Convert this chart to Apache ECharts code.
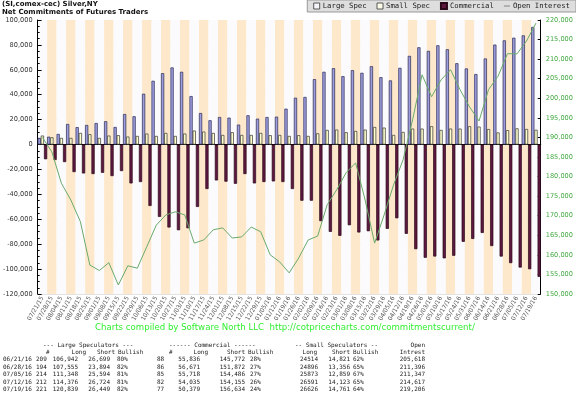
<!DOCTYPE html>
<html lang="en">
<head>
  <meta charset="UTF-8">
  <title>Silver COT</title>
  <style>
    html, body { margin: 0; padding: 0; background: #fff; }
    #main { width: 576px; height: 397px; }
  </style>
</head>
<body>
  <div id="main"></div>
  <script src="https://cdn.jsdelivr.net/npm/echarts@6/dist/echarts.min.js"></script>
  <script>
    const dates = ['07/21/15', '07/28/15', '08/04/15', '08/11/15', '08/18/15', '08/25/15', '09/01/15', '09/08/15',
      '09/15/15', '09/22/15', '09/29/15', '10/06/15', '10/13/15', '10/20/15', '10/27/15', '11/03/15', '11/10/15',
      '11/17/15', '11/24/15', '12/01/15', '12/08/15', '12/15/15', '12/22/15', '12/29/15', '01/05/16', '01/12/16',
      '01/19/16', '01/26/16', '02/02/16', '02/09/16', '02/16/16', '02/23/16', '03/01/16', '03/08/16', '03/15/16',
      '03/22/16', '03/29/16', '04/05/16', '04/12/16', '04/19/16', '04/26/16', '05/03/16', '05/10/16', '05/17/16',
      '05/24/16', '05/31/16', '06/07/16', '06/14/16', '06/21/16', '06/28/16', '07/05/16', '07/12/16', '07/19/16'];

    const largeSpec = [5300, 6300, 8500, 16500, 14000, 15700, 17300, 18700, 14100, 24500, 22700, 40800, 51200,
      57300, 61900, 58400, 38900, 25300, 19500, 22100, 21600, 16000, 23500, 20800, 22100, 22400, 28800, 37600,
      38200, 52500, 58400, 61300, 54900, 59700, 57600, 62900, 54100, 51500, 61600, 71200, 78100, 75200, 79700,
      76500, 65300, 61100, 56600, 69100, 80243, 83661, 85754, 87652, 94390];

    const smallSpec = [7200, 5800, 5300, 5300, 9300, 8300, 5300, 7200, 7500, 6400, 6900, 8800, 6900, 9300, 6900,
      8800, 11200, 10400, 9300, 7700, 9900, 7700, 7700, 9300, 7500, 7700, 6900, 7500, 6900, 9000, 11700, 12000,
      9900, 10900, 12000, 14100, 13600, 7700, 10100, 12800, 12800, 14700, 11700, 12800, 12800, 14700, 14400,
      12400, 9693, 11540, 13014, 12468, 11865];

    const commercial = [-11800, -12400, -14100, -22100, -23200, -23700, -22700, -25300, -21300, -31200, -30100,
      -49300, -58100, -66600, -68800, -67200, -50100, -35700, -28800, -29800, -31500, -23700, -31200, -30100,
      -29600, -30100, -35700, -45100, -45100, -61500, -70100, -73300, -64800, -70600, -69600, -77000, -67700,
      -59200, -71700, -84000, -90900, -89900, -91400, -89300, -78100, -75800, -71000, -81500, -89936, -95201,
      -98768, -100120, -106255];

    const openInterest = [190000, 186300, 178300, 174000, 168500, 157400, 156000, 158000, 152300, 157200, 156600,
      162100, 167600, 170200, 171000, 170200, 163000, 163800, 166400, 166900, 164300, 164600, 167100, 165900,
      160000, 158200, 155400, 159200, 163800, 164800, 172800, 176600, 181000, 183500, 174000, 163000, 170200,
      177900, 184300, 194500, 206000, 200400, 204700, 207300, 202200, 197800, 194200, 202200, 205618, 211396,
      211347, 214617, 219206];

    // table under the chart
    const tDates = ['06/21/16', '06/28/16', '07/05/16', '07/12/16', '07/19/16'];
    const lsNum = ['209', '194', '214', '212', '221'];
    const lsLong = ['106,942', '107,555', '111,348', '114,376', '120,839'];
    const lsShort = ['26,699', '23,894', '25,594', '26,724', '26,449'];
    const lsBull = ['80%', '82%', '81%', '81%', '82%'];
    const cmNum = ['88', '86', '85', '82', '77'];
    const cmLong = ['55,836', '56,671', '55,718', '54,035', '50,379'];
    const cmShort = ['145,772', '151,872', '154,486', '154,155', '156,634'];
    const cmBull = ['28%', '27%', '27%', '26%', '24%'];
    const ssLong = ['24514', '24896', '25873', '26591', '26626'];
    const ssShort = ['14,821', '13,356', '12,859', '14,123', '14,761'];
    const ssBull = ['62%', '65%', '67%', '65%', '64%'];
    const oiTable = ['205,618', '211,396', '211,347', '214,617', '219,206'];

    const mono = 'DejaVu Sans Mono';
    const tableFont = { fontFamily: mono, fontSize: 6, fill: '#1a1a1a' };

    function txt(text, x, y, align) {
      return {
        type: 'text',
        x: x,
        y: y,
        style: { ...tableFont, text: text, textAlign: align || 'left', textVerticalAlign: 'middle' }
      };
    }

    const graphic = [
      {
        type: 'text', x: 95, y: 328,
        style: {
          text: 'Charts compiled by Software North LLC  http://cotpricecharts.com/commitmentscurrent/',
          fontFamily: 'DejaVu Sans', fontSize: 8.6, fill: '#33ee33', textVerticalAlign: 'middle'
        }
      },
      txt('--- Large Speculators ---', 43, 345),
      txt('------ Commercial ------', 169, 345),
      txt('-- Small Speculators --', 295, 345),
      txt('Open', 425, 345, 'right'),
      txt('#', 46, 352),
      txt('Long', 86, 352, 'right'),
      txt('Short', 115, 352, 'right'),
      txt('Bullish', 118, 352),
      txt('#', 169, 352),
      txt('Long', 208, 352, 'right'),
      txt('Short', 245, 352, 'right'),
      txt('Bullish', 248, 352),
      txt('Long', 317, 352, 'right'),
      txt('Short', 350, 352, 'right'),
      txt('Bullish', 353, 352),
      txt('Intrest', 425, 352, 'right')
    ];

    tDates.forEach((d, i) => {
      const y = 359.5 + i * 7.5;
      graphic.push(
        txt(d, 3, y),
        txt(lsNum[i], 36, y),
        txt(lsLong[i], 78, y, 'right'),
        txt(lsShort[i], 110, y, 'right'),
        txt(lsBull[i], 117, y),
        txt(cmNum[i], 157, y),
        txt(cmLong[i], 200, y, 'right'),
        txt(cmShort[i], 245, y, 'right'),
        txt(cmBull[i], 250, y),
        txt(ssLong[i], 318, y, 'right'),
        txt(ssShort[i], 350, y, 'right'),
        txt(ssBull[i], 353, y),
        txt(oiTable[i], 425, y, 'right')
      );
    });

    const chart = echarts.init(document.getElementById('main'));

    chart.setOption({
      animation: false,
      backgroundColor: '#fff',
      title: {
        left: 2,
        top: 1,
        padding: 0,
        itemGap: 1,
        text: '(SI,comex-cec) Silver,NY',
        subtext: 'Net Commitments of Futures Traders',
        textStyle: { fontFamily: 'DejaVu Sans', fontSize: 7, fontWeight: 'bold', color: '#111' },
        subtextStyle: { fontFamily: 'DejaVu Sans', fontSize: 7, fontWeight: 'bold', color: '#111' }
      },
      legend: {
        top: 0,
        right: 0,
        itemWidth: 6,
        itemHeight: 6,
        itemGap: 10,
        padding: [2, 6, 2, 6],
        backgroundColor: '#dedede',
        borderColor: '#999',
        borderWidth: 1,
        textStyle: { fontFamily: mono, fontSize: 7.3, color: '#222', padding: [0, 0, 0, -2] },
        data: [
          { name: 'Large Spec', icon: 'rect', itemStyle: { color: '#f4f4fb', borderColor: '#333', borderWidth: 0.8 } },
          { name: 'Small Spec', icon: 'rect', itemStyle: { color: '#fbfbe8', borderColor: '#333', borderWidth: 0.8 } },
          { name: 'Commercial', icon: 'rect' },
          { name: 'Open Interest', icon: 'path://M0,4.5 L10,4.5 L10,5.5 L0,5.5 Z', itemStyle: { color: '#444' } }
        ]
      },
      grid: { left: 33, right: 33, top: 20, bottom: 103 },
      xAxis: {
        type: 'category',
        data: dates,
        boundaryGap: true,
        axisLine: { lineStyle: { color: '#000', width: 1 } },
        axisTick: { inside: true, length: 3, interval: 0, lineStyle: { color: '#000' } },
        axisLabel: { rotate: 60, interval: 0, fontSize: 6, margin: 3, color: '#555', fontFamily: 'DejaVu Sans' },
        splitArea: { show: true, interval: 0, areaStyle: { color: ['#fbfbfd', '#fde8cc'] } }
      },
      yAxis: [
        {
          type: 'value',
          position: 'left',
          min: -120000,
          max: 100000,
          interval: 20000,
          axisLine: { show: true, lineStyle: { color: '#000' } },
          axisTick: { show: true, inside: true, length: 4, lineStyle: { color: '#000' } },
          minorTick: { show: true, splitNumber: 4, length: 2, lineStyle: { color: '#000' } },
          splitLine: { show: true, lineStyle: { color: '#e3e3e3', width: 1 } },
          axisLabel: { fontSize: 6.6, color: '#333', margin: 5, fontFamily: 'DejaVu Sans' }
        },
        {
          type: 'value',
          position: 'right',
          min: 150000,
          max: 220000,
          interval: 5000,
          axisLine: { show: true, lineStyle: { color: '#000' } },
          axisTick: { show: true, inside: true, length: 3, lineStyle: { color: '#000' } },
          splitLine: { show: false },
          axisLabel: { fontSize: 6.6, color: '#44aa44', margin: 5, fontFamily: 'DejaVu Sans' }
        }
      ],
      series: [
        {
          name: 'Large Spec',
          type: 'bar',
          data: largeSpec,
          barWidth: 3.2,
          barGap: '0%',
          itemStyle: { color: '#9d9dde', borderColor: '#2a2a55', borderWidth: 0.7 }
        },
        {
          name: 'Small Spec',
          type: 'bar',
          data: smallSpec,
          barWidth: 3.2,
          itemStyle: { color: '#ffffcc', borderColor: '#333', borderWidth: 0.7 }
        },
        {
          name: 'Commercial',
          type: 'bar',
          data: commercial,
          barWidth: 3.2,
          itemStyle: { color: '#5e1840', borderColor: '#2a0818', borderWidth: 0.7 }
        },
        {
          name: 'Open Interest',
          type: 'line',
          yAxisIndex: 1,
          data: openInterest,
          symbol: 'none',
          z: 5,
          lineStyle: { color: '#6aaa6a', width: 1 },
          itemStyle: { color: '#6aaa6a' }
        }
      ],
      graphic: graphic
    });
  </script>
</body>
</html>
